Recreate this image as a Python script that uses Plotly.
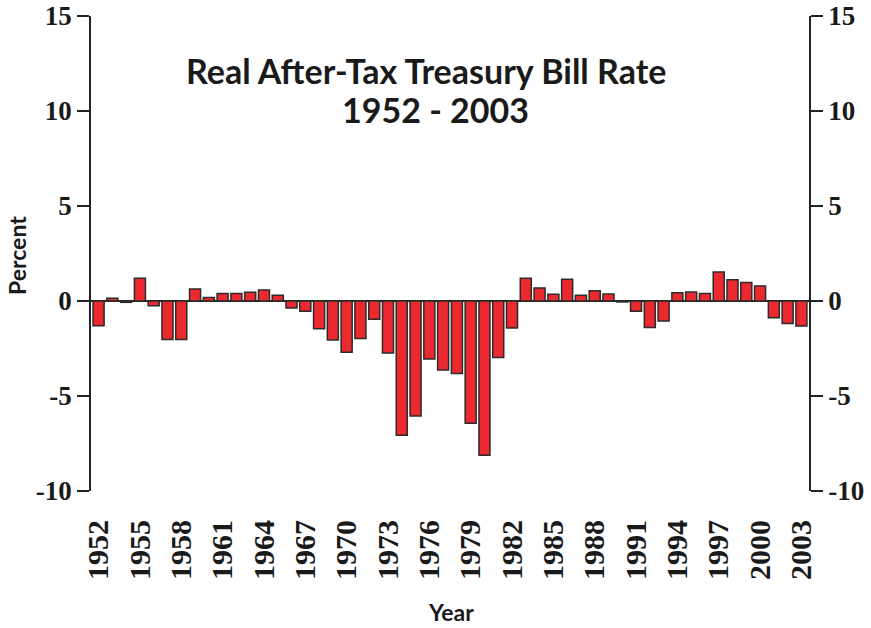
import plotly.graph_objects as go

## data
years = list(range(1952, 2004))
rate = [-1.3, 0.14, -0.07, 1.2, -0.25, -2.02, -2.02, 0.63, 0.19, 0.4,
        0.4, 0.46, 0.58, 0.3, -0.37, -0.54, -1.46, -2.05, -2.7, -1.98,
        -0.96, -2.74, -7.07, -6.05, -3.05, -3.63, -3.82, -6.44, -8.12, -2.98,
        -1.42, 1.2, 0.69, 0.35, 1.14, 0.3, 0.54, 0.37, -0.05, -0.54,
        -1.39, -1.05, 0.44, 0.47, 0.4, 1.53, 1.12, 0.98, 0.79, -0.88,
        -1.18, -1.32]
year_ticks = list(range(1952, 2004, 3))
y_ticks = [-10, -5, 0, 5, 10, 15]

ytick_font = dict(family="Liberation Serif", size=27, color="#1a1a1a")
xtick_font = dict(family="Liberation Serif", size=30, color="#1a1a1a")
sans = "Lato, sans-serif"
label_font = dict(family=sans, size=23, color="#1a1a1a")
title_font = dict(family=sans, size=34, color="#1a1a1a")

fig = go.Figure(go.Bar(
    x=years, y=rate,
    marker=dict(color="#ED2930", line=dict(color="#2b2b2b", width=1.5)),
    width=0.8,
))

# dummy trace so the right axis gets drawn
fig.add_trace(go.Scatter(x=[years[0]], y=[0], yaxis="y2", mode="markers",
                         marker=dict(opacity=0), showlegend=False, hoverinfo="skip"))

yax = dict(range=[-10, 15], tickvals=y_ticks,
           ticktext=[f"<b>{v}</b>" for v in y_ticks],
           tickfont=ytick_font, showgrid=False, showline=True,
           linecolor="#222", linewidth=1.5, ticks="outside", ticklen=12,
           tickwidth=1.5, tickcolor="#222", automargin=False)

fig.update_layout(
    width=871, height=628,
    margin=dict(l=91, r=62, t=16, b=137),
    plot_bgcolor="white", paper_bgcolor="white",
    showlegend=False,
    xaxis=dict(range=[1951.45, 2003.55], tickvals=year_ticks,
               ticktext=[f"<b>{y}</b>" for y in year_ticks],
               tickangle=-90, tickfont=xtick_font, showgrid=False,
               showline=False, zeroline=False, ticks="", ticklabelstandoff=22,
               automargin=False),
    yaxis=dict(yax, zeroline=True, zerolinecolor="#222", zerolinewidth=1.5),
    yaxis2=dict(yax, overlaying="y", side="right", zeroline=False),
)

# annotation positions given in pixels, converted to paper coords
pw, ph = 871 - 91 - 62, 628 - 16 - 137
def px(x):
    return (x - 91) / pw
def py(y):
    return (628 - 137 - y) / ph

def label(text, x, y, font, angle=0):
    fig.add_annotation(text=text, x=px(x), y=py(y), xref="paper", yref="paper",
                       xanchor="center", yanchor="middle",
                       showarrow=False, textangle=angle, font=font)

label("<b>Real After-Tax Treasury Bill Rate</b>", 426, 70, title_font)
label("<b>1952 - 2003</b>", 435, 110, title_font)
label("<b>Percent</b>", 17, 256, label_font, angle=-90)
label("<b>Year</b>", 451, 612, label_font)

fig.write_html("out.html", config={"displayModeBar": False},
               post_script="document.body.style.margin='0';")
